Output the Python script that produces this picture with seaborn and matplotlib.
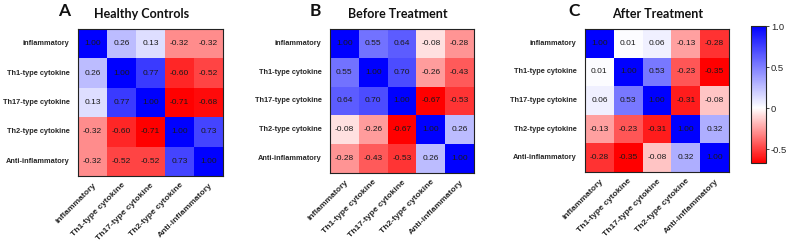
import numpy as np
import pandas as pd
import matplotlib
matplotlib.use('Agg')
import matplotlib.pyplot as plt
from matplotlib.colors import LinearSegmentedColormap, TwoSlopeNorm, Normalize
import matplotlib.cm as cm
import seaborn as sns

# row/column labels shared by all three panels
labels = ['inflammatory', 'Th1-type cytokine', 'Th17-type cytokine',
          'Th2-type cytokine', 'Anti-inflammatory']

healthy = [[1.00, 0.26, 0.13, -0.32, -0.32],
           [0.26, 1.00, 0.77, -0.60, -0.52],
           [0.13, 0.77, 1.00, -0.71, -0.68],
           [-0.32, -0.60, -0.71, 1.00, 0.73],
           [-0.32, -0.52, -0.52, 0.73, 1.00]]

before = [[1.00, 0.55, 0.64, -0.08, -0.28],
          [0.55, 1.00, 0.70, -0.26, -0.43],
          [0.64, 0.70, 1.00, -0.67, -0.53],
          [-0.08, -0.26, -0.67, 1.00, 0.26],
          [-0.28, -0.43, -0.53, 0.26, 1.00]]

after = [[1.00, 0.01, 0.06, -0.13, -0.28],
         [0.01, 1.00, 0.53, -0.23, -0.35],
         [0.06, 0.53, 1.00, -0.31, -0.08],
         [-0.13, -0.23, -0.31, 1.00, 0.32],
         [-0.28, -0.35, -0.08, 0.32, 1.00]]

titles = ['Healthy Controls', 'Before Treatment', 'After Treatment']
letters = ['A', 'B', 'C']
cbar_ticks = [1.0, 0.5, 0, -0.5]
cbar_labels = ['1.0', '0.5', '0', '-0.5']

sns.set_style('white')
plt.rcParams['font.family'] = ['Liberation Sans', 'DejaVu Sans']
LAB = ['Liberation Sans', 'DejaVu Sans']
HEAD = ['Lato', 'DejaVu Sans']

W, H = 788, 242
fig = plt.figure(figsize=(W / 100, H / 100), dpi=100)

def px_axes(left, top, right, bottom):
    return fig.add_axes([left / W, 1 - bottom / H, (right - left) / W, (bottom - top) / H])

# red -> white -> blue
bwr = LinearSegmentedColormap.from_list('rwb', ['#ff0000', '#ffffff', '#0000ff'])

boxes = [(78, 29, 223, 176), (330, 29, 474, 173), (585, 29, 729, 172)]
title_x = [142, 398, 658]
letter_x = [64, 315, 574]

for data, title, letter, box, tx, lx in zip([healthy, before, after], titles, letters,
                                            boxes, title_x, letter_x):
    df = pd.DataFrame(data, index=labels, columns=labels)
    ax = px_axes(*box)
    norm = TwoSlopeNorm(vmin=df.values.min(), vcenter=0, vmax=1.0)
    sns.heatmap(df, ax=ax, cmap=bwr, norm=norm, annot=True, fmt='.2f', cbar=False,
                annot_kws={'fontsize': 6, 'color': '#1a1a1a', 'family': LAB})
    for sp in ax.spines.values():
        sp.set_visible(True)
        sp.set_color('#222222')
        sp.set_linewidth(0.8)
    ax.tick_params(axis='y', length=0, pad=6)
    ax.tick_params(axis='x', length=0, pad=4)
    ax.set_yticklabels(labels, rotation=0, fontsize=5.3, fontweight='bold', family=LAB)
    ax.set_xticklabels(labels, rotation=45, ha='right', rotation_mode='anchor',
                       fontsize=6.1, fontweight='bold', family=LAB)
    fig.text(tx / W, 1 - 14 / H, title, ha='center', va='center', fontsize=9,
             fontweight='bold', family=HEAD, color='#111111')
    fig.text(lx / W, 1 - 11 / H, letter, ha='center', va='center', fontsize=12.5,
             fontweight='bold', family=HEAD, color='#111111')

# shared colour bar, linear scale
cax = px_axes(751, 26, 766, 163)
cnorm = Normalize(vmin=-0.67, vmax=1.0)
zero = 0.67 / 1.67
cbar_cmap = LinearSegmentedColormap.from_list(
    'cb', [(0, '#ff0000'), (zero, '#ffffff'), (1, '#0000ff')])
sm = cm.ScalarMappable(norm=cnorm, cmap=cbar_cmap)
cb = fig.colorbar(sm, cax=cax, ticks=cbar_ticks)
cb.ax.set_yticklabels(cbar_labels, fontsize=6.8, family=LAB)
cb.ax.tick_params(length=2, width=0.6, pad=1.5)
cb.outline.set_linewidth(0.8)

fig.savefig('out.png', dpi=100)
